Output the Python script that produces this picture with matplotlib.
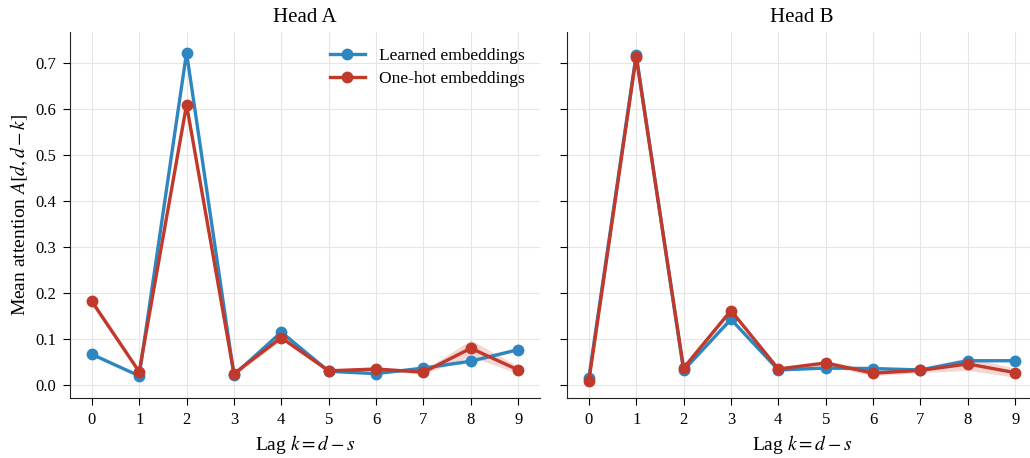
import numpy as np
import matplotlib
matplotlib.use("Agg")
import matplotlib.pyplot as plt

plt.rcParams['font.family'] = ['Liberation Serif', 'DejaVu Serif']
plt.rcParams['mathtext.fontset'] = 'stix'

lags = list(range(10))
# Head A
a_learned = [0.067, 0.020, 0.722, 0.022, 0.115, 0.030, 0.025, 0.037, 0.052, 0.077]
a_learned_err = [0.003, 0.002, 0.004, 0.002, 0.004, 0.002, 0.002, 0.002, 0.003, 0.003]
a_onehot = [0.182, 0.029, 0.609, 0.025, 0.103, 0.031, 0.035, 0.028, 0.080, 0.033]
a_onehot_err = [0.008, 0.004, 0.006, 0.005, 0.005, 0.004, 0.004, 0.004, 0.018, 0.008]
# Head B
b_learned = [0.015, 0.718, 0.032, 0.143, 0.033, 0.037, 0.036, 0.033, 0.053, 0.053]
b_learned_err = [0.002, 0.003, 0.002, 0.003, 0.002, 0.002, 0.002, 0.002, 0.003, 0.002]
b_onehot = [0.008, 0.713, 0.037, 0.162, 0.035, 0.048, 0.026, 0.032, 0.046, 0.027]
b_onehot_err = [0.002, 0.004, 0.004, 0.004, 0.004, 0.006, 0.006, 0.005, 0.014, 0.010]

blue = '#2e86c1'
red = '#c0392b'

fig = plt.figure(figsize=(10.30, 4.58), dpi=100)
W, H = 1030, 458
ax1 = fig.add_axes([70 / W, 60 / H, 470 / W, 366 / H])
ax2 = fig.add_axes([567 / W, 60 / H, 470 / W, 366 / H], sharey=ax1)

def draw(ax, l, le, o, oe, title):
    x = np.array(lags)
    l, le, o, oe = map(np.array, (l, le, o, oe))
    ax.fill_between(x, l - le, l + le, color=blue, alpha=0.2, lw=0)
    ax.plot(x, l, '-o', color=blue, lw=2.4, ms=7.5, label='Learned embeddings')
    ax.fill_between(x, o - oe, o + oe, color=red, alpha=0.2, lw=0)
    ax.plot(x, o, '-o', color=red, lw=2.4, ms=7.5, label='One-hot embeddings')
    ax.set_title(title, fontsize=15, pad=7)
    ax.set_xlabel(r'Lag $k = d - s$', fontsize=14)
    ax.set_xticks(lags)
    ax.set_xlim(-0.46, 9.46)
    ax.grid(True, color='#e6e6e6', lw=0.8)
    ax.set_axisbelow(True)
    for s in ('top', 'right'):
        ax.spines[s].set_visible(False)
    for s in ('left', 'bottom'):
        ax.spines[s].set_color('#222222')
    ax.tick_params(labelsize=12, direction='out', length=5, pad=5)

draw(ax1, a_learned, a_learned_err, a_onehot, a_onehot_err, 'Head A')
draw(ax2, b_learned, b_learned_err, b_onehot, b_onehot_err, 'Head B')
ax1.set_ylim(-0.028, 0.767)
ax1.set_yticks([0.0, 0.1, 0.2, 0.3, 0.4, 0.5, 0.6, 0.7])
ax1.set_ylabel(r'Mean attention $A[d, d-k]$', fontsize=14)
plt.setp(ax2.get_yticklabels(), visible=False)
ax1.legend(loc='upper right', frameon=False, fontsize=12.5, handlelength=2.0,
           borderaxespad=0.5, labelspacing=0.4)

fig.savefig('out.png', dpi=100)
